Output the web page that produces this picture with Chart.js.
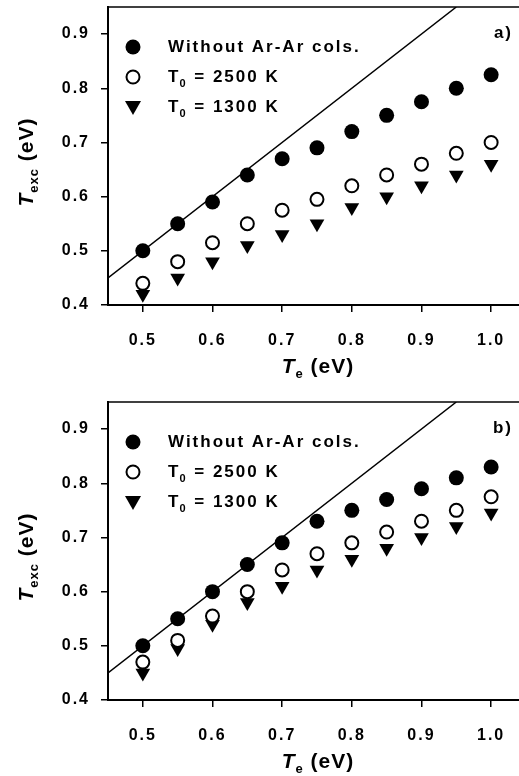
<!DOCTYPE html>
<html>
<head>
<meta charset="utf-8">
<script src="https://cdn.jsdelivr.net/npm/chart.js@4.4.1/dist/chart.umd.min.js"></script>
<style>
  body { margin: 0; background: #fff; }
  canvas { display: block; }
</style>
</head>
<body>
<canvas id="chart-a" width="519" height="388"></canvas>
<canvas id="chart-b" width="519" height="388"></canvas>
<script>
// electron temperature Te (eV)
let te = [0.5, 0.55, 0.6, 0.65, 0.7, 0.75, 0.8, 0.85, 0.9, 0.95, 1.0];

// panel a)
let aWithout = [0.50, 0.55, 0.59, 0.64, 0.67, 0.69, 0.72, 0.75, 0.775, 0.80, 0.825];
let aT2500 = [0.44, 0.48, 0.515, 0.55, 0.575, 0.595, 0.62, 0.64, 0.66, 0.68, 0.70];
let aT1300 = [0.42, 0.45, 0.48, 0.51, 0.53, 0.55, 0.58, 0.60, 0.62, 0.64, 0.66];

// panel b)
let bWithout = [0.50, 0.55, 0.60, 0.65, 0.69, 0.73, 0.75, 0.77, 0.79, 0.81, 0.83];
let bT2500 = [0.47, 0.51, 0.555, 0.60, 0.64, 0.67, 0.69, 0.71, 0.73, 0.75, 0.775];
let bT1300 = [0.45, 0.495, 0.54, 0.58, 0.61, 0.64, 0.66, 0.68, 0.70, 0.72, 0.745];

// Texc = Te reference line
let diagX = [0.45, 0.95];

let xTicks = [0.5, 0.6, 0.7, 0.8, 0.9, 1.0];
let yTicks = [0.4, 0.5, 0.6, 0.7, 0.8, 0.9];
let legendLabels = ['Without Ar-Ar cols.', 'T\u2080 = 2500 K', 'T\u2080 = 1300 K'];

const FONT = '"Liberation Sans", Arial, sans-serif';

let toPoints = (xs, ys) => xs.map((x, i) => ({ x: x, y: ys[i] }));

function drawMarker(ctx, kind, x, y) {
    ctx.save();
    ctx.lineWidth = 2;
    ctx.strokeStyle = '#000';
    ctx.fillStyle = '#000';
    if (kind === 'filled') {
        ctx.beginPath();
        ctx.arc(x, y, 7.5, 0, Math.PI * 2);
        ctx.fill();
    } else if (kind === 'open') {
        ctx.beginPath();
        ctx.arc(x, y, 6.5, 0, Math.PI * 2);
        ctx.fillStyle = '#fff';
        ctx.fill();
        ctx.stroke();
    } else {
        ctx.beginPath();
        ctx.moveTo(x - 8, y - 6);
        ctx.lineTo(x + 8, y - 6);
        ctx.lineTo(x, y + 8);
        ctx.closePath();
        ctx.fill();
    }
    ctx.restore();
}

// draws T with a subscript followed by " (eV)"
function drawTitle(ctx, sub, cx, cy, rotate) {
    ctx.save();
    ctx.translate(cx, cy);
    if (rotate) ctx.rotate(-Math.PI / 2);
    ctx.letterSpacing = '1px';
    ctx.fillStyle = '#000';
    ctx.textBaseline = 'middle';
    ctx.textAlign = 'left';
    let bigT = 'italic bold 21px ' + FONT;
    let small = 'bold 13px ' + FONT;
    let big = 'bold 21px ' + FONT;
    ctx.font = bigT; let w1 = ctx.measureText('T').width;
    ctx.font = small; let w2 = ctx.measureText(sub).width;
    ctx.font = big; let w3 = ctx.measureText(' (eV)').width;
    let x = -(w1 + w2 + w3) / 2;
    ctx.font = bigT; ctx.fillText('T', x, 0);
    ctx.font = small; ctx.fillText(sub, x + w1, 7);
    ctx.font = big; ctx.fillText(' (eV)', x + w1 + w2, 0);
    ctx.restore();
}

const decorPlugin = {
    id: 'decor',
    beforeDraw(chart) {
        chart.ctx.letterSpacing = '2px';
    },
    afterDraw(chart, args, opts) {
        let ctx = chart.ctx;
        let area = chart.chartArea;
        // top frame line
        ctx.save();
        ctx.strokeStyle = '#000';
        ctx.lineWidth = 1.5;
        ctx.beginPath();
        ctx.moveTo(area.left, area.top);
        ctx.lineTo(area.right, area.top);
        ctx.stroke();
        ctx.restore();

        // legend inside the plot
        let kinds = ['filled', 'open', 'tri'];
        ctx.save();
        ctx.fillStyle = '#000';
        ctx.textBaseline = 'middle';
        ctx.textAlign = 'left';
        for (let i = 0; i < 3; i++) {
            let y = area.top + 40 + i * 30;
            drawMarker(ctx, kinds[i], 133, y);
            let label = legendLabels[i];
            ctx.font = 'bold 17px ' + FONT;
            if (i === 0) {
                ctx.fillText(label, 168, y);
            } else {
                // T with subscript 0
                ctx.fillText('T', 168, y);
                let wT = ctx.measureText('T').width;
                ctx.font = 'bold 11px ' + FONT;
                ctx.fillText('0', 168 + wT - 1, y + 7);
                let w0 = ctx.measureText('0').width;
                ctx.font = 'bold 17px ' + FONT;
                ctx.fillText(label.slice(2), 168 + wT + w0 - 1, y);
            }
        }
        // panel label
        ctx.font = 'bold 17px ' + FONT;
        ctx.textAlign = 'right';
        ctx.fillText(opts.panel, 513, area.top + 26);
        ctx.restore();

        drawTitle(ctx, 'exc', 27, (area.top + area.bottom) / 2 + 6, true);
        drawTitle(ctx, 'e', 318, area.bottom + 62, false);
    }
};

function makeChart(id, panel, top, without, t2500, t1300) {
    let markerOpts = { borderColor: '#000', showLine: false };
    new Chart(document.getElementById(id), {
        type: 'scatter',
        data: {
            datasets: [
                {
                    data: toPoints(diagX, diagX),
                    showLine: true,
                    borderColor: '#000',
                    borderWidth: 1.5,
                    pointRadius: 0,
                },
                Object.assign({
                    data: toPoints(te, without),
                    backgroundColor: '#000',
                    pointRadius: 7.5,
                    borderWidth: 0,
                }, markerOpts),
                Object.assign({
                    data: toPoints(te, t2500),
                    backgroundColor: '#fff',
                    pointRadius: 6.5,
                    borderWidth: 2,
                }, markerOpts),
                Object.assign({
                    data: toPoints(te, t1300),
                    backgroundColor: '#000',
                    pointStyle: 'triangle',
                    rotation: 180,
                    pointRadius: 8.5,
                    borderWidth: 0,
                }, markerOpts),
            ],
        },
        options: {
            responsive: false,
            animation: false,
            devicePixelRatio: 1,
            layout: { autoPadding: false, padding: { top: top, left: 0, right: 0, bottom: 0 } },
            plugins: {
                legend: { display: false },
                tooltip: { enabled: false },
                decor: { panel: panel },
            },
            scales: {
                x: {
                    type: 'linear',
                    min: 0.45,
                    max: 1.04,
                    afterBuildTicks: (scale) => { scale.ticks = xTicks.map(v => ({ value: v })); },
                    afterFit: (scale) => {
                        scale.height = 388 - top - 298;
                        scale.paddingLeft = 0;
                        scale.paddingRight = 0;
                    },
                    border: { color: '#000', width: 2 },
                    grid: { drawOnChartArea: false, color: '#000', lineWidth: 1.5, tickLength: 7 },
                    ticks: {
                        color: '#000',
                        padding: 19,
                        maxRotation: 0,
                        font: { family: FONT, size: 16, weight: 'bold' },
                        callback: (v) => v.toFixed(1),
                    },
                },
                y: {
                    type: 'linear',
                    min: 0.4,
                    max: 0.95,
                    afterBuildTicks: (scale) => { scale.ticks = yTicks.map(v => ({ value: v })); },
                    afterFit: (scale) => {
                        scale.width = 108;
                        scale.paddingTop = 0;
                        scale.paddingBottom = 0;
                    },
                    border: { color: '#000', width: 2 },
                    grid: { drawOnChartArea: false, color: '#000', lineWidth: 1.5, tickLength: 7 },
                    ticks: {
                        color: '#000',
                        padding: 11,
                        font: { family: FONT, size: 16, weight: 'bold' },
                        callback: (v) => v.toFixed(1),
                    },
                },
            },
        },
        plugins: [decorPlugin],
    });
}

makeChart('chart-a', 'a)', 7, aWithout, aT2500, aT1300);
makeChart('chart-b', 'b)', 14, bWithout, bT2500, bT1300);
</script>
</body>
</html>
